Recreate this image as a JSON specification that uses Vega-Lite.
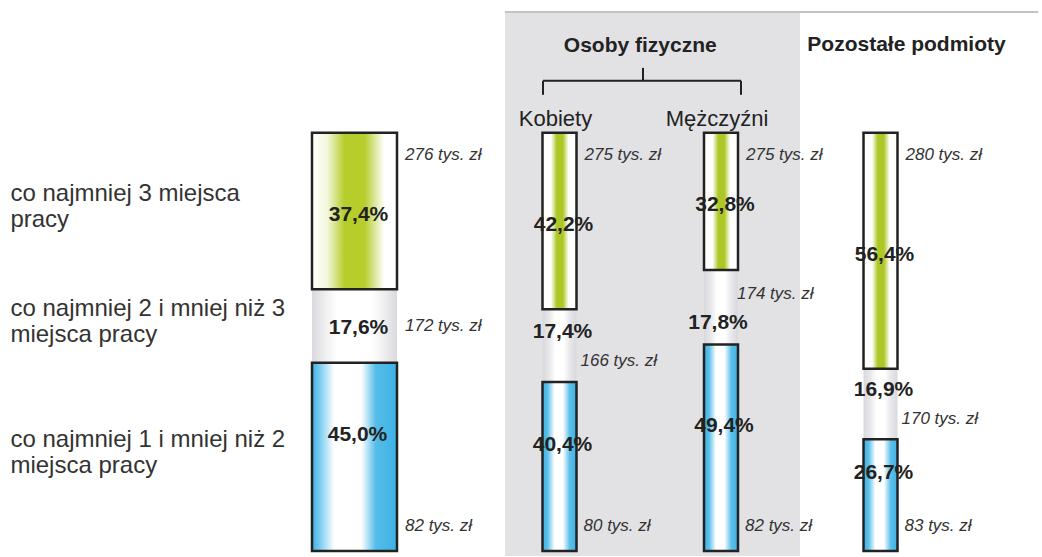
{
  "$schema": "https://vega.github.io/schema/vega-lite/v6.json",
  "width": 1042,
  "height": 557,
  "padding": 0,
  "autosize": {"type": "fit", "contains": "padding"},
  "background": "#ffffff",
  "config": {
    "font": "Liberation Sans",
    "view": {"stroke": null},
    "axis": {"disable": true},
    "locale": {"number": {"decimal": ",", "thousands": " ", "grouping": [3], "currency": ["", " tys. zł"], "percent": "%"}}
  },
  "datasets": {
    "slupki": [
      {"grupa": "Ogółem", "typ": "Ogółem", "slot": 0, "kat": 3, "kategoria": "co najmniej 3 miejsca\npracy", "udzial": 0.374, "kwota": 276},
      {"grupa": "Ogółem", "typ": "Ogółem", "slot": 0, "kat": 2, "kategoria": "co najmniej 2 i mniej niż 3\nmiejsca pracy", "udzial": 0.176, "kwota": 172},
      {"grupa": "Ogółem", "typ": "Ogółem", "slot": 0, "kat": 1, "kategoria": "co najmniej 1 i mniej niż 2\nmiejsca pracy", "udzial": 0.45, "kwota": 82},
      {"grupa": "Kobiety", "typ": "Osoby fizyczne", "slot": 1, "kat": 3, "kategoria": "co najmniej 3 miejsca\npracy", "udzial": 0.422, "kwota": 275},
      {"grupa": "Kobiety", "typ": "Osoby fizyczne", "slot": 1, "kat": 2, "kategoria": "co najmniej 2 i mniej niż 3\nmiejsca pracy", "udzial": 0.174, "kwota": 166},
      {"grupa": "Kobiety", "typ": "Osoby fizyczne", "slot": 1, "kat": 1, "kategoria": "co najmniej 1 i mniej niż 2\nmiejsca pracy", "udzial": 0.404, "kwota": 80},
      {"grupa": "Mężczyźni", "typ": "Osoby fizyczne", "slot": 2, "kat": 3, "kategoria": "co najmniej 3 miejsca\npracy", "udzial": 0.328, "kwota": 275},
      {"grupa": "Mężczyźni", "typ": "Osoby fizyczne", "slot": 2, "kat": 2, "kategoria": "co najmniej 2 i mniej niż 3\nmiejsca pracy", "udzial": 0.178, "kwota": 174},
      {"grupa": "Mężczyźni", "typ": "Osoby fizyczne", "slot": 2, "kat": 1, "kategoria": "co najmniej 1 i mniej niż 2\nmiejsca pracy", "udzial": 0.494, "kwota": 82},
      {"grupa": "Pozostałe podmioty", "typ": "Pozostałe podmioty", "slot": 3, "kat": 3, "kategoria": "co najmniej 3 miejsca\npracy", "udzial": 0.564, "kwota": 280},
      {"grupa": "Pozostałe podmioty", "typ": "Pozostałe podmioty", "slot": 3, "kat": 2, "kategoria": "co najmniej 2 i mniej niż 3\nmiejsca pracy", "udzial": 0.169, "kwota": 170},
      {"grupa": "Pozostałe podmioty", "typ": "Pozostałe podmioty", "slot": 3, "kat": 1, "kategoria": "co najmniej 1 i mniej niż 2\nmiejsca pracy", "udzial": 0.267, "kwota": 83}
    ]
  },
  "data": {"name": "slupki"},
  "transform": [
    {"stack": "udzial", "groupby": ["grupa"], "sort": [{"field": "kat", "order": "ascending"}], "as": ["y0", "y1"]},
    {"calculate": "(datum.y0 + datum.y1) / 2", "as": "srodek"}
  ],
  "layer": [
    {
      "data": {"values": [{}]},
      "mark": {"type": "rect", "fill": "#e2e2e5"},
      "encoding": {
        "x": {"datum": 0.7341, "type": "quantitative", "axis": null, "scale": {"domain": [-1, 0, 1, 2, 3, 4], "range": [0, 354.5, 559.5, 721, 880.5, 1042], "nice": false, "zero": false}},
        "x2": {"datum": 2.4953},
        "y": {"datum": 1.2888, "type": "quantitative", "axis": null, "scale": {"domain": [-0.011933, 1.317422], "nice": false, "zero": false}},
        "y2": {"datum": -0.012}
      }
    },
    {
      "data": {"values": [{}]},
      "mark": {"type": "rule", "stroke": "#c4c4c8", "strokeWidth": 2},
      "encoding": {
        "x": {"datum": 0.7341, "type": "quantitative", "axis": null, "scale": {"domain": [-1, 0, 1, 2, 3, 4], "range": [0, 354.5, 559.5, 721, 880.5, 1042], "nice": false, "zero": false}},
        "x2": {"datum": 4},
        "y": {"datum": 1.2888, "type": "quantitative", "axis": null, "scale": {"domain": [-0.011933, 1.317422], "nice": false, "zero": false}}
      }
    },
    {
      "data": {"values": [{}]},
      "mark": {"type": "rule", "stroke": "#222222", "strokeWidth": 2},
      "encoding": {
        "x": {"datum": 0.9195, "type": "quantitative", "axis": null, "scale": {"domain": [-1, 0, 1, 2, 3, 4], "range": [0, 354.5, 559.5, 721, 880.5, 1042], "nice": false, "zero": false}},
        "x2": {"datum": 2.1254},
        "y": {"datum": 1.1241, "type": "quantitative", "axis": null, "scale": {"domain": [-0.011933, 1.317422], "nice": false, "zero": false}}
      }
    },
    {
      "data": {"values": [{}]},
      "mark": {"type": "rule", "stroke": "#222222", "strokeWidth": 2},
      "encoding": {
        "x": {"datum": 0.9195, "type": "quantitative", "axis": null, "scale": {"domain": [-1, 0, 1, 2, 3, 4], "range": [0, 354.5, 559.5, 721, 880.5, 1042], "nice": false, "zero": false}},
        "y": {"datum": 1.1241, "type": "quantitative", "axis": null, "scale": {"domain": [-0.011933, 1.317422], "nice": false, "zero": false}},
        "y2": {"datum": 1.0907}
      }
    },
    {
      "data": {"values": [{}]},
      "mark": {"type": "rule", "stroke": "#222222", "strokeWidth": 2},
      "encoding": {
        "x": {"datum": 2.1254, "type": "quantitative", "axis": null, "scale": {"domain": [-1, 0, 1, 2, 3, 4], "range": [0, 354.5, 559.5, 721, 880.5, 1042], "nice": false, "zero": false}},
        "y": {"datum": 1.1241, "type": "quantitative", "axis": null, "scale": {"domain": [-0.011933, 1.317422], "nice": false, "zero": false}},
        "y2": {"datum": 1.0907}
      }
    },
    {
      "data": {"values": [{}]},
      "mark": {"type": "rule", "stroke": "#222222", "strokeWidth": 2},
      "encoding": {
        "x": {"datum": 1.517, "type": "quantitative", "axis": null, "scale": {"domain": [-1, 0, 1, 2, 3, 4], "range": [0, 354.5, 559.5, 721, 880.5, 1042], "nice": false, "zero": false}},
        "y": {"datum": 1.1241, "type": "quantitative", "axis": null, "scale": {"domain": [-0.011933, 1.317422], "nice": false, "zero": false}},
        "y2": {"datum": 1.1551}
      }
    },
    {
      "transform": [{"filter": "datum.slot == 0 && datum.kat == 2"}],
      "mark": {"type": "bar", "orient": "vertical", "width": 85, "fill": {"gradient": "linear", "x1": 0, "x2": 1, "y1": 0, "y2": 0, "stops": [{"offset": 0, "color": "#d9d9dd"}, {"offset": 0.14, "color": "#ededef"}, {"offset": 0.3, "color": "#ffffff"}, {"offset": 0.7, "color": "#ffffff"}, {"offset": 0.86, "color": "#ededef"}, {"offset": 1, "color": "#d9d9dd"}]}},
      "encoding": {
        "x": {"field": "slot", "type": "quantitative", "axis": null, "scale": {"domain": [-1, 0, 1, 2, 3, 4], "range": [0, 354.5, 559.5, 721, 880.5, 1042], "nice": false, "zero": false}},
        "y": {"field": "y0", "type": "quantitative", "axis": null, "scale": {"domain": [-0.011933, 1.317422], "nice": false, "zero": false}},
        "y2": {"field": "y1"}
      }
    },
    {
      "transform": [{"filter": "datum.slot > 0 && datum.kat == 2"}],
      "mark": {"type": "bar", "orient": "vertical", "width": 34, "fill": {"gradient": "linear", "x1": 0, "x2": 1, "y1": 0, "y2": 0, "stops": [{"offset": 0, "color": "#d9d9dd"}, {"offset": 0.2, "color": "#e8e8eb"}, {"offset": 0.38, "color": "#ffffff"}, {"offset": 0.62, "color": "#ffffff"}, {"offset": 0.8, "color": "#e8e8eb"}, {"offset": 1, "color": "#d9d9dd"}]}},
      "encoding": {
        "x": {"field": "slot", "type": "quantitative", "axis": null, "scale": {"domain": [-1, 0, 1, 2, 3, 4], "range": [0, 354.5, 559.5, 721, 880.5, 1042], "nice": false, "zero": false}},
        "y": {"field": "y0", "type": "quantitative", "axis": null, "scale": {"domain": [-0.011933, 1.317422], "nice": false, "zero": false}},
        "y2": {"field": "y1"}
      }
    },
    {
      "transform": [{"filter": "datum.slot == 0 && datum.kat == 3"}],
      "mark": {"type": "bar", "orient": "vertical", "width": 85, "stroke": "#222222", "strokeWidth": 2.5, "fill": {"gradient": "linear", "x1": 0, "x2": 1, "y1": 0, "y2": 0, "stops": [{"offset": 0, "color": "#ffffff"}, {"offset": 0.18, "color": "#f3f7dc"}, {"offset": 0.38, "color": "#b6cd2c"}, {"offset": 0.62, "color": "#b6cd2c"}, {"offset": 0.85, "color": "#ffffff"}, {"offset": 1, "color": "#ffffff"}]}},
      "encoding": {
        "x": {"field": "slot", "type": "quantitative", "axis": null, "scale": {"domain": [-1, 0, 1, 2, 3, 4], "range": [0, 354.5, 559.5, 721, 880.5, 1042], "nice": false, "zero": false}},
        "y": {"field": "y0", "type": "quantitative", "axis": null, "scale": {"domain": [-0.011933, 1.317422], "nice": false, "zero": false}},
        "y2": {"field": "y1"}
      }
    },
    {
      "transform": [{"filter": "datum.slot > 0 && datum.kat == 3"}],
      "mark": {"type": "bar", "orient": "vertical", "width": 34, "stroke": "#222222", "strokeWidth": 2.5, "fill": {"gradient": "linear", "x1": 0, "x2": 1, "y1": 0, "y2": 0, "stops": [{"offset": 0, "color": "#ffffff"}, {"offset": 0.25, "color": "#ffffff"}, {"offset": 0.42, "color": "#aec727"}, {"offset": 0.6, "color": "#aec727"}, {"offset": 0.77, "color": "#ffffff"}, {"offset": 1, "color": "#ffffff"}]}},
      "encoding": {
        "x": {"field": "slot", "type": "quantitative", "axis": null, "scale": {"domain": [-1, 0, 1, 2, 3, 4], "range": [0, 354.5, 559.5, 721, 880.5, 1042], "nice": false, "zero": false}},
        "y": {"field": "y0", "type": "quantitative", "axis": null, "scale": {"domain": [-0.011933, 1.317422], "nice": false, "zero": false}},
        "y2": {"field": "y1"}
      }
    },
    {
      "transform": [{"filter": "datum.slot == 0 && datum.kat == 1"}],
      "mark": {"type": "bar", "orient": "vertical", "width": 85, "stroke": "#222222", "strokeWidth": 2.5, "fill": {"gradient": "linear", "x1": 0, "x2": 1, "y1": 0, "y2": 0, "stops": [{"offset": 0, "color": "#3cb2e4"}, {"offset": 0.08, "color": "#70c8ee"}, {"offset": 0.26, "color": "#ffffff"}, {"offset": 0.58, "color": "#ffffff"}, {"offset": 0.75, "color": "#55bde9"}, {"offset": 1, "color": "#3cb2e4"}]}},
      "encoding": {
        "x": {"field": "slot", "type": "quantitative", "axis": null, "scale": {"domain": [-1, 0, 1, 2, 3, 4], "range": [0, 354.5, 559.5, 721, 880.5, 1042], "nice": false, "zero": false}},
        "y": {"field": "y0", "type": "quantitative", "axis": null, "scale": {"domain": [-0.011933, 1.317422], "nice": false, "zero": false}},
        "y2": {"field": "y1"}
      }
    },
    {
      "transform": [{"filter": "datum.slot > 0 && datum.kat == 1"}],
      "mark": {"type": "bar", "orient": "vertical", "width": 34, "stroke": "#222222", "strokeWidth": 2.5, "fill": {"gradient": "linear", "x1": 0, "x2": 1, "y1": 0, "y2": 0, "stops": [{"offset": 0, "color": "#3cb2e4"}, {"offset": 0.15, "color": "#5cc0ea"}, {"offset": 0.35, "color": "#ffffff"}, {"offset": 0.6, "color": "#ffffff"}, {"offset": 0.8, "color": "#5cc0ea"}, {"offset": 1, "color": "#3cb2e4"}]}},
      "encoding": {
        "x": {"field": "slot", "type": "quantitative", "axis": null, "scale": {"domain": [-1, 0, 1, 2, 3, 4], "range": [0, 354.5, 559.5, 721, 880.5, 1042], "nice": false, "zero": false}},
        "y": {"field": "y0", "type": "quantitative", "axis": null, "scale": {"domain": [-0.011933, 1.317422], "nice": false, "zero": false}},
        "y2": {"field": "y1"}
      }
    },
    {
      "transform": [{"filter": "datum.kat == 3"}],
      "mark": {"type": "text", "fontSize": 21, "fontWeight": "bold", "color": "#222222", "align": "center", "baseline": "middle", "dx": 4, "dy": 4},
      "encoding": {
        "x": {"field": "slot", "type": "quantitative", "axis": null, "scale": {"domain": [-1, 0, 1, 2, 3, 4], "range": [0, 354.5, 559.5, 721, 880.5, 1042], "nice": false, "zero": false}},
        "y": {"field": "srodek", "type": "quantitative", "axis": null, "scale": {"domain": [-0.011933, 1.317422], "nice": false, "zero": false}},
        "text": {"field": "udzial", "type": "quantitative", "format": ".1%"}
      }
    },
    {
      "transform": [{"filter": "datum.kat == 1"}],
      "mark": {"type": "text", "fontSize": 21, "fontWeight": "bold", "color": "#222222", "align": "center", "baseline": "middle", "dx": 3, "dy": -22},
      "encoding": {
        "x": {"field": "slot", "type": "quantitative", "axis": null, "scale": {"domain": [-1, 0, 1, 2, 3, 4], "range": [0, 354.5, 559.5, 721, 880.5, 1042], "nice": false, "zero": false}},
        "y": {"field": "srodek", "type": "quantitative", "axis": null, "scale": {"domain": [-0.011933, 1.317422], "nice": false, "zero": false}},
        "text": {"field": "udzial", "type": "quantitative", "format": ".1%"}
      }
    },
    {
      "transform": [{"filter": "datum.slot == 0 && datum.kat == 2"}],
      "mark": {"type": "text", "fontSize": 21, "fontWeight": "bold", "color": "#222222", "align": "center", "baseline": "middle", "dx": 4, "dy": 2},
      "encoding": {
        "x": {"field": "slot", "type": "quantitative", "axis": null, "scale": {"domain": [-1, 0, 1, 2, 3, 4], "range": [0, 354.5, 559.5, 721, 880.5, 1042], "nice": false, "zero": false}},
        "y": {"field": "srodek", "type": "quantitative", "axis": null, "scale": {"domain": [-0.011933, 1.317422], "nice": false, "zero": false}},
        "text": {"field": "udzial", "type": "quantitative", "format": ".1%"}
      }
    },
    {
      "transform": [{"filter": "(datum.slot == 1 || datum.slot == 3) && datum.kat == 2"}],
      "mark": {"type": "text", "fontSize": 21, "fontWeight": "bold", "color": "#222222", "align": "center", "baseline": "middle", "dx": 3, "dy": -14},
      "encoding": {
        "x": {"field": "slot", "type": "quantitative", "axis": null, "scale": {"domain": [-1, 0, 1, 2, 3, 4], "range": [0, 354.5, 559.5, 721, 880.5, 1042], "nice": false, "zero": false}},
        "y": {"field": "srodek", "type": "quantitative", "axis": null, "scale": {"domain": [-0.011933, 1.317422], "nice": false, "zero": false}},
        "text": {"field": "udzial", "type": "quantitative", "format": ".1%"}
      }
    },
    {
      "transform": [{"filter": "datum.slot == 2 && datum.kat == 2"}],
      "mark": {"type": "text", "fontSize": 21, "fontWeight": "bold", "color": "#222222", "align": "center", "baseline": "middle", "dx": -3, "dy": 16},
      "encoding": {
        "x": {"field": "slot", "type": "quantitative", "axis": null, "scale": {"domain": [-1, 0, 1, 2, 3, 4], "range": [0, 354.5, 559.5, 721, 880.5, 1042], "nice": false, "zero": false}},
        "y": {"field": "srodek", "type": "quantitative", "axis": null, "scale": {"domain": [-0.011933, 1.317422], "nice": false, "zero": false}},
        "text": {"field": "udzial", "type": "quantitative", "format": ".1%"}
      }
    },
    {
      "transform": [{"filter": "datum.slot == 0"}],
      "mark": {"type": "text", "fontSize": 24, "color": "#333333", "align": "left", "baseline": "middle", "lineBreak": "\n", "lineHeight": 26, "dy": -17, "dx": -8},
      "encoding": {
        "x": {"datum": -0.971, "type": "quantitative", "axis": null, "scale": {"domain": [-1, 0, 1, 2, 3, 4], "range": [0, 354.5, 559.5, 721, 880.5, 1042], "nice": false, "zero": false}},
        "y": {"field": "srodek", "type": "quantitative", "axis": null, "scale": {"domain": [-0.011933, 1.317422], "nice": false, "zero": false}},
        "text": {"field": "kategoria"}
      }
    },
    {
      "transform": [{"filter": "datum.slot == 0 && datum.kat == 3"}],
      "mark": {"type": "text", "fontSize": 17, "fontStyle": "italic", "color": "#333333", "align": "left", "baseline": "middle", "dx": 50.5, "dy": 22},
      "encoding": {
        "x": {"field": "slot", "type": "quantitative", "axis": null, "scale": {"domain": [-1, 0, 1, 2, 3, 4], "range": [0, 354.5, 559.5, 721, 880.5, 1042], "nice": false, "zero": false}},
        "y": {"field": "y1", "type": "quantitative", "axis": null, "scale": {"domain": [-0.011933, 1.317422], "nice": false, "zero": false}},
        "text": {"field": "kwota", "type": "quantitative", "format": "$.0f"}
      }
    },
    {
      "transform": [{"filter": "datum.slot > 0 && datum.kat == 3"}],
      "mark": {"type": "text", "fontSize": 17, "fontStyle": "italic", "color": "#333333", "align": "left", "baseline": "middle", "dx": 25, "dy": 22},
      "encoding": {
        "x": {"field": "slot", "type": "quantitative", "axis": null, "scale": {"domain": [-1, 0, 1, 2, 3, 4], "range": [0, 354.5, 559.5, 721, 880.5, 1042], "nice": false, "zero": false}},
        "y": {"field": "y1", "type": "quantitative", "axis": null, "scale": {"domain": [-0.011933, 1.317422], "nice": false, "zero": false}},
        "text": {"field": "kwota", "type": "quantitative", "format": "$.0f"}
      }
    },
    {
      "transform": [{"filter": "datum.slot == 0 && datum.kat == 2"}],
      "mark": {"type": "text", "fontSize": 17, "fontStyle": "italic", "color": "#333333", "align": "left", "baseline": "middle", "dx": 50.5},
      "encoding": {
        "x": {"field": "slot", "type": "quantitative", "axis": null, "scale": {"domain": [-1, 0, 1, 2, 3, 4], "range": [0, 354.5, 559.5, 721, 880.5, 1042], "nice": false, "zero": false}},
        "y": {"field": "srodek", "type": "quantitative", "axis": null, "scale": {"domain": [-0.011933, 1.317422], "nice": false, "zero": false}},
        "text": {"field": "kwota", "type": "quantitative", "format": "$.0f"}
      }
    },
    {
      "transform": [{"filter": "(datum.slot == 1 || datum.slot == 3) && datum.kat == 2"}],
      "mark": {"type": "text", "fontSize": 17, "fontStyle": "italic", "color": "#333333", "align": "left", "baseline": "middle", "dx": 21, "dy": 15},
      "encoding": {
        "x": {"field": "slot", "type": "quantitative", "axis": null, "scale": {"domain": [-1, 0, 1, 2, 3, 4], "range": [0, 354.5, 559.5, 721, 880.5, 1042], "nice": false, "zero": false}},
        "y": {"field": "srodek", "type": "quantitative", "axis": null, "scale": {"domain": [-0.011933, 1.317422], "nice": false, "zero": false}},
        "text": {"field": "kwota", "type": "quantitative", "format": "$.0f"}
      }
    },
    {
      "transform": [{"filter": "datum.slot == 2 && datum.kat == 2"}],
      "mark": {"type": "text", "fontSize": 17, "fontStyle": "italic", "color": "#333333", "align": "left", "baseline": "middle", "dx": 16, "dy": -13},
      "encoding": {
        "x": {"field": "slot", "type": "quantitative", "axis": null, "scale": {"domain": [-1, 0, 1, 2, 3, 4], "range": [0, 354.5, 559.5, 721, 880.5, 1042], "nice": false, "zero": false}},
        "y": {"field": "srodek", "type": "quantitative", "axis": null, "scale": {"domain": [-0.011933, 1.317422], "nice": false, "zero": false}},
        "text": {"field": "kwota", "type": "quantitative", "format": "$.0f"}
      }
    },
    {
      "transform": [{"filter": "datum.slot == 0 && datum.kat == 1"}],
      "mark": {"type": "text", "fontSize": 17, "fontStyle": "italic", "color": "#333333", "align": "left", "baseline": "middle", "dx": 50.5, "dy": -25},
      "encoding": {
        "x": {"field": "slot", "type": "quantitative", "axis": null, "scale": {"domain": [-1, 0, 1, 2, 3, 4], "range": [0, 354.5, 559.5, 721, 880.5, 1042], "nice": false, "zero": false}},
        "y": {"field": "y0", "type": "quantitative", "axis": null, "scale": {"domain": [-0.011933, 1.317422], "nice": false, "zero": false}},
        "text": {"field": "kwota", "type": "quantitative", "format": "$.0f"}
      }
    },
    {
      "transform": [{"filter": "datum.slot > 0 && datum.kat == 1"}],
      "mark": {"type": "text", "fontSize": 17, "fontStyle": "italic", "color": "#333333", "align": "left", "baseline": "middle", "dx": 24, "dy": -25},
      "encoding": {
        "x": {"field": "slot", "type": "quantitative", "axis": null, "scale": {"domain": [-1, 0, 1, 2, 3, 4], "range": [0, 354.5, 559.5, 721, 880.5, 1042], "nice": false, "zero": false}},
        "y": {"field": "y0", "type": "quantitative", "axis": null, "scale": {"domain": [-0.011933, 1.317422], "nice": false, "zero": false}},
        "text": {"field": "kwota", "type": "quantitative", "format": "$.0f"}
      }
    },
    {
      "transform": [{"filter": "(datum.slot == 1 || datum.slot == 2) && datum.kat == 1"}],
      "mark": {"type": "text", "fontSize": 22, "color": "#222222", "align": "center", "baseline": "middle", "dx": -4},
      "encoding": {
        "x": {"field": "slot", "type": "quantitative", "axis": null, "scale": {"domain": [-1, 0, 1, 2, 3, 4], "range": [0, 354.5, 559.5, 721, 880.5, 1042], "nice": false, "zero": false}},
        "y": {"datum": 1.0334, "type": "quantitative", "axis": null, "scale": {"domain": [-0.011933, 1.317422], "nice": false, "zero": false}},
        "text": {"field": "grupa"}
      }
    },
    {
      "transform": [
        {"filter": "datum.typ == 'Osoby fizyczne'"},
        {"aggregate": [{"op": "mean", "field": "slot", "as": "slot_sr"}], "groupby": ["typ"]}
      ],
      "mark": {"type": "text", "fontSize": 21, "fontWeight": "bold", "color": "#222222", "align": "center", "baseline": "middle"},
      "encoding": {
        "x": {"field": "slot_sr", "type": "quantitative", "axis": null, "scale": {"domain": [-1, 0, 1, 2, 3, 4], "range": [0, 354.5, 559.5, 721, 880.5, 1042], "nice": false, "zero": false}},
        "y": {"datum": 1.2076, "type": "quantitative", "axis": null, "scale": {"domain": [-0.011933, 1.317422], "nice": false, "zero": false}},
        "text": {"field": "typ"}
      }
    },
    {
      "transform": [{"filter": "datum.slot == 3 && datum.kat == 1"}],
      "mark": {"type": "text", "fontSize": 21, "fontWeight": "bold", "color": "#222222", "align": "center", "baseline": "middle", "dx": 26},
      "encoding": {
        "x": {"field": "slot", "type": "quantitative", "axis": null, "scale": {"domain": [-1, 0, 1, 2, 3, 4], "range": [0, 354.5, 559.5, 721, 880.5, 1042], "nice": false, "zero": false}},
        "y": {"datum": 1.21, "type": "quantitative", "axis": null, "scale": {"domain": [-0.011933, 1.317422], "nice": false, "zero": false}},
        "text": {"field": "typ"}
      }
    }
  ]
}
